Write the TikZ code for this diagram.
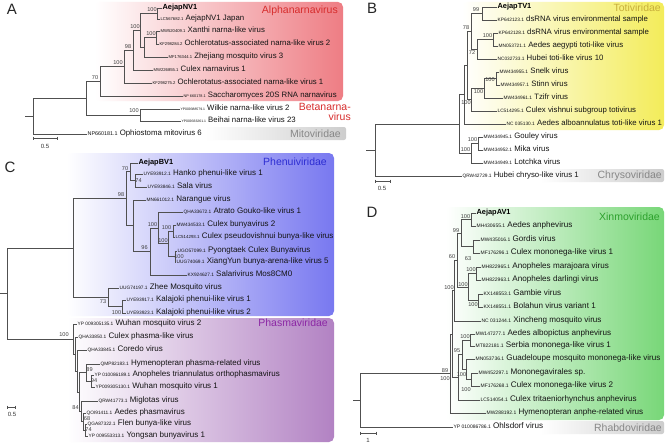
\documentclass[tikz,border=0pt]{standalone}
\usepackage{fontspec}
\setmainfont{Liberation Sans}
\definecolor{brc}{RGB}{80,80,80}
\definecolor{pinkR}{RGB}{238,125,132}
\definecolor{alphaT}{RGB}{215,45,45}
\definecolor{yelR}{RGB}{243,236,90}
\definecolor{totiT}{RGB}{200,175,60}
\definecolor{bluR}{RGB}{120,120,240}
\definecolor{phenT}{RGB}{45,45,210}
\definecolor{phaR}{RGB}{178,130,195}
\definecolor{phaT}{RGB}{140,40,165}
\definecolor{greR}{RGB}{120,215,120}
\definecolor{xinT}{RGB}{45,160,45}
\definecolor{graR}{RGB}{205,205,205}
\definecolor{grayT}{RGB}{135,135,135}
\def\accfs{4.2}
\def\lfs{7.8}
\newcommand\acc[1]{{\fontsize{\accfs}{5}\selectfont #1}}
\newcommand\lf[6][]{\node[leaf,#1] (#2) at (#3,#4) {\acc{#5}~#6};}
\newcommand\sm[2]{{\fontsize{#1}{5}\selectfont #2}}
\begin{document}
\begin{tikzpicture}[x=1pt,y=-1pt,
 br/.style={draw=brc,line width=0.55pt},
 leaf/.style={anchor=west,inner sep=0.6pt,outer sep=0pt,text height=5pt,text depth=1.5pt,font=\fontsize{\lfs}{8}\selectfont,text=black!92},
 bold/.style={font=\fontsize{7.4}{8}\selectfont\bfseries,text=black},
 bs/.style={font=\fontsize{5.6}{6}\selectfont,inner sep=0pt,text=black!75},
 clade/.style={font=\fontsize{10.5}{10}\selectfont,inner sep=0pt,anchor=east},
 plabel/.style={font=\fontsize{15}{16}\selectfont,inner sep=0pt,text=black!85},
 sc/.style={font=\fontsize{6}{7}\selectfont,inner sep=0pt,text=black!80}]
\useasboundingbox (0,0) rectangle (666,444);
\fill[white] (0,0) rectangle (666,444);
% ================= A =================
\shade[left color=white,right color=pinkR,rounded corners=5pt] (95,2) rectangle (343,101);
\shade[left color=white,right color=graR,rounded corners=2pt] (205,127) rectangle (346,140);
\node[plabel] (lA) at (12,9) {A};
\node[clade,text=alphaT] (cA1) at (338,11) {Alphanarnavirus};
\node[clade,text=alphaT,align=right] (cA2) at (351,112) {Betanarna-\\virus};
\node[clade,text=grayT] (cA3) at (341,134) {Mitoviridae};
\node[leaf,bold] (aL1) at (162,8) {AejapNV1};
\lf{aL2}{160}{19}{LC567682.1}{AejapNV1 Japan}
\lf{aL3}{160}{31}{MW520409.1}{Xanthi narna-like virus}
\lf{aL4}{159}{44}{KF298284.2}{Ochlerotatus-associated narna-like virus 2}
\lf{aL5}{168}{57}{MF176344.1}{Zhejiang mosquito virus 3}
\lf{aL6}{153}{70}{MW226855.1}{Culex narnavirus 1}
\lf{aL7}{152}{83}{KF298275.2}{Ochlerotatus-associated narna-like virus 1}
\lf{aL8}{183}{96}{\sm{3.8}{NP 660178.1}}{Saccharomyces 20S RNA narnavirus}
\lf{aL9}{180}{109}{\sm{3.4}{YP009388579.1}}{Wilkie narna-like virus 2}
\lf{aL10}{181}{121}{\sm{3.4}{YP009333261.1}}{Beihai narna-like virus 23}
\lf{aL11}{87}{134}{\sm{5.4}{NP660181.1}}{Ophiostoma mitovirus 6}
\coordinate (an1) at (157,13.5);
\coordinate (an2) at (156,37.5);
\coordinate (an3) at (144,47.25);
\coordinate (an4) at (140,30.4);
\coordinate (an5) at (133,50.2);
\coordinate (an6) at (124,66.6);
\coordinate (an7) at (100,81.3);
\coordinate (anb) at (140,115);
\coordinate (an8) at (86,98.1);
\coordinate (anr) at (33,116);
\coordinate (anst) at (25,116);
\draw[br] (an1) |- (aL1.west) (an1) |- (aL2.west)
 (an2) |- (aL3.west) (an2) |- (aL4.west)
 (an3) |- (an2) (an3) |- (aL5.west)
 (an4) |- (an1) (an4) |- (an3)
 (an5) |- (an4) (an5) |- (aL6.west)
 (an6) |- (an5) (an6) |- (aL7.west)
 (an7) |- (an6) (an7) |- (aL8.west)
 (anb) |- (aL9.west) (anb) |- (aL10.west)
 (an8) |- (an7) (an8) |- (anb)
 (anr) |- (an8) (anr) |- (aL11.west)
 (anst) -- (anr);
\node[bs] (bA1) at (152,9.5) {100};
\node[bs] (bA2) at (151,34) {100};
\node[bs] (bA3) at (135,27) {100};
\node[bs] (bA4) at (128,47) {98};
\node[bs] (bA5) at (118,63) {100};
\node[bs] (bA6) at (95,78) {70};
\node[bs] (bA7) at (134,111) {100};
\coordinate (sA1) at (33,138);
\coordinate (sA2) at (57,138);
\draw[br] (sA1) -- (sA2) ([yshift=1.5pt]sA1) -- ([yshift=-1.5pt]sA1) ([yshift=1.5pt]sA2) -- ([yshift=-1.5pt]sA2);
\node[sc] (sAl) at (45,146) {0.5};
% ================= B =================
\def\accfs{4.8}\def\lfs{7.8}
\shade[left color=white,right color=yelR,rounded corners=5pt] (462,2) rectangle (664,130);
\shade[left color=white,right color=graR,rounded corners=2pt] (540,169) rectangle (664,182);
\node[plabel] (lB) at (372,8) {B};
\node[clade,text=totiT] (cB1) at (661,8) {Totiviridae};
\node[clade,text=grayT] (cB2) at (662,175.5) {Chrysoviridae};
\node[leaf,bold] (bL1) at (497,7) {AejapTV1};
\lf{bL2}{497}{20}{KP642123.1}{dsRNA virus environmental sample}
\lf{bL3}{498}{33}{KP642128.1}{dsRNA virus environmental sample}
\lf{bL4}{498}{46}{MN053721.1}{Aedes aegypti toti-like virus}
\lf{bL5}{497}{59}{NC032733.1}{Hubei toti-like virus 10}
\lf{bL6}{499}{72}{MW434955.1}{Snelk virus}
\lf{bL7}{500}{85}{MW434957.1}{Stinn virus}
\lf{bL8}{503}{98}{MW434961.1}{Tzifr virus}
\lf{bL9}{497}{111}{LC514295.1}{Culex vishnui subgroup totivirus}
\lf{bL10}{506}{124}{NC 035130.1}{Aedes alboannulatus toti-like virus 1}
\lf{bL11}{483}{137}{MW434945.1}{Gouley virus}
\lf{bL12}{483}{150}{MW434952.1}{Mika virus}
\lf{bL13}{483}{163}{MW434949.1}{Lotchka virus}
\lf{bL14}{462}{176}{QRW42729.1}{Hubei chryso-like virus 1}
\coordinate (bn1) at (482,13.5);
\coordinate (bn2) at (493,39.5);
\coordinate (bn3) at (477,49.25);
\coordinate (bn4) at (471,31.4);
\coordinate (bn5) at (496,78.5);
\coordinate (bn6) at (484,88.25);
\coordinate (bn7) at (471,99.6);
\coordinate (bn8) at (467,65.5);
\coordinate (bn9) at (464,94.75);
\coordinate (bg1) at (478,143.5);
\coordinate (bg2) at (471,153.25);
\coordinate (bT) at (459,124);
\coordinate (br) at (375,150);
\coordinate (bst) at (366,150);
\draw[br] (bn1) |- (bL1.west) (bn1) |- (bL2.west)
 (bn2) |- (bL3.west) (bn2) |- (bL4.west)
 (bn3) |- (bn2) (bn3) |- (bL5.west)
 (bn4) |- (bn1) (bn4) |- (bn3)
 (bn5) |- (bL6.west) (bn5) |- (bL7.west)
 (bn6) |- (bn5) (bn6) |- (bL8.west)
 (bn7) |- (bn6) (bn7) |- (bL9.west)
 (bn8) |- (bn4) (bn8) |- (bn7)
 (bn9) |- (bn8) (bn9) |- (bL10.west)
 (bg1) |- (bL11.west) (bg1) |- (bL12.west)
 (bg2) |- (bg1) (bg2) |- (bL13.west)
 (bT) |- (bn9) (bT) |- (bg2)
 (br) |- (bT) (br) |- (bL14.west)
 (bst) -- (br);
\node[bs] (bB1) at (476,10) {99};
\node[bs] (bB2) at (466,28) {78};
\node[bs] (bB3) at (487.5,36) {100};
\node[bs] (bB4) at (472,53) {72};
\node[bs] (bB5) at (490,80) {100};
\node[bs] (bB6) at (478.5,92) {100};
\node[bs] (bB7) at (466,103) {100};
\node[bs] (bB8) at (472.5,140) {100};
\node[bs] (bB9) at (465.5,150) {100};
\coordinate (sB1) at (375,181);
\coordinate (sB2) at (390,181);
\draw[br] (sB1) -- (sB2) ([yshift=1.5pt]sB1) -- ([yshift=-1.5pt]sB1) ([yshift=1.5pt]sB2) -- ([yshift=-1.5pt]sB2);
\node[sc] (sBl) at (382,188) {0.5};
% ================= C =================
\def\accfs{4.8}\def\lfs{8}
\shade[left color=white,right color=bluR,rounded corners=5pt] (67,153) rectangle (334,316);
\shade[left color=white,right color=phaR,rounded corners=5pt] (67,318) rectangle (334,442);
\node[plabel] (lC) at (10,167) {C};
\node[clade,text=phenT] (cC1) at (327,162) {Phenuiviridae};
\node[clade,text=phaT] (cC2) at (328,323) {Phasmaviridae};
\node[leaf,bold] (cL1) at (138,163) {AejapBV1};
\lf{cL2}{143}{174}{UYE93912.1}{Hanko phenui-like virus 1}
\lf{cL3}{147}{187}{UYE93846.1}{Sala virus}
\lf{cL4}{146}{200}{MN661012.1}{Narangue virus}
\lf{cL5}{183}{212}{QHA33672.1}{Atrato Gouko-like virus 1}
\lf{cL6}{176}{225}{MW434533.1}{Culex bunyavirus 2}
\lf{cL7}{175}{237}{\sm{4.4}{LC514293.1}}{Culex pseudovishnui bunya-like virus}
\lf{cL8}{177}{251}{UGO57099.1}{Pyongtaek Culex Bunyavirus}
\lf{cL9}{176}{262}{UUG74069.1}{XiangYun bunya-arena-like virus 5}
\lf{cL10}{187}{275}{KX924627.1}{Salarivirus Mos8CM0}
\lf{cL11}{119}{288}{UUG74197.1}{Zhee Mosquito virus}
\lf{cL12}{126}{300}{UYE93917.1}{Kalajoki phenui-like virus 1}
\lf{cL13}{126}{313}{UYE93923.1}{Kalajoki phenui-like virus 2}
\lf{cL14}{77}{324}{YP 009305135.1}{Wuhan mosquito virus 2}
\lf{cL15}{78}{337}{QHA33850.1}{Culex phasma-like virus}
\lf{cL16}{87}{350}{QHA33845.1}{Coredo virus}
\lf{cL17}{100}{364}{QMP82183.1}{Hymenopteran phasma-related virus}
\lf{cL18}{94}{375}{YP 010086189.1}{Anopheles triannulatus orthophasmavirus}
\lf{cL19}{95}{387}{YP009305130.1}{Wuhan mosquito virus 1}
\lf{cL20}{98}{401}{QRW41773.1}{Miglotas virus}
\lf{cL21}{86}{413}{QOI91411.1}{Aedes phasmavirus}
\lf{cL22}{87}{424}{QGA87322.1}{Flen bunya-like virus}
\lf{cL23}{88}{436}{YP 009553313.1}{Yongsan bunyavirus 1}
\coordinate (cn74) at (135,180.5);
\coordinate (cn70) at (130,171.75);
\coordinate (cp1) at (173,231);
\coordinate (cp2) at (175,256.5);
\coordinate (cp3) at (168,243.75);
\coordinate (cp4) at (158,227.9);
\coordinate (cp5) at (150,251.4);
\coordinate (cp6) at (133,225.7);
\coordinate (cp7) at (126,198.7);
\coordinate (ck) at (122,306.5);
\coordinate (cz) at (108,297.25);
\coordinate (cph) at (73,248);
\coordinate (q94) at (91,381);
\coordinate (q89) at (86,372.5);
\coordinate (q74) at (85,430);
\coordinate (q68) at (83,421.5);
\coordinate (q84) at (81,411.25);
\coordinate (qm) at (79.5,391.9);
\coordinate (ph3) at (77.5,370.9);
\coordinate (ph2) at (75.5,354);
\coordinate (ph1) at (73,339);
\coordinate (cr) at (7,293.5);
\coordinate (cst) at (0,293.5);
\draw[br] (cn74) |- (cL2.west) (cn74) |- (cL3.west)
 (cn70) |- (cL1.west) (cn70) |- (cn74)
 (cp1) |- (cL6.west) (cp1) |- (cL7.west)
 (cp2) |- (cL8.west) (cp2) |- (cL9.west)
 (cp3) |- (cp1) (cp3) |- (cp2)
 (cp4) |- (cL5.west) (cp4) |- (cp3)
 (cp5) |- (cp4) (cp5) |- (cL10.west)
 (cp6) |- (cL4.west) (cp6) |- (cp5)
 (cp7) |- (cn70) (cp7) |- (cp6)
 (ck) |- (cL12.west) (ck) |- (cL13.west)
 (cz) |- (cL11.west) (cz) |- (ck)
 (cph) |- (cp7) (cph) |- (cz)
 (q94) |- (cL18.west) (q94) |- (cL19.west)
 (q89) |- (cL17.west) (q89) |- (q94)
 (q74) |- (cL22.west) (q74) |- (cL23.west)
 (q68) |- (cL21.west) (q68) |- (q74)
 (q84) |- (cL20.west) (q84) |- (q68)
 (qm) |- (q89) (qm) |- (q84)
 (ph3) |- (cL16.west) (ph3) |- (qm)
 (ph2) |- (cL15.west) (ph2) |- (ph3)
 (ph1) |- (cL14.west) (ph1) |- (ph2)
 (cr) |- (cph) (cr) |- (ph1)
 (cst) -- (cr);
\node[bs] (bC1) at (125,169) {70};
\node[bs] (bC2) at (138.5,181) {74};
\node[bs] (bC3) at (121,195) {98};
\node[bs] (bC4) at (152.5,224.5) {100};
\node[bs] (bC5) at (144.5,248) {96};
\node[bs] (bC6) at (166.5,227.5) {100};
\node[bs] (bC7) at (163,241) {100};
\node[bs] (bC8) at (179,256.5) {100};
\node[bs] (bC9) at (103,302) {73};
\node[bs] (bC10) at (116.5,313) {100};
\node[bs] (bC11) at (64,335) {100};
\node[bs] (bC12) at (89.5,369.5) {89};
\node[bs] (bC13) at (94,381) {94};
\node[bs] (bC14) at (75.5,408) {84};
\node[bs] (bC15) at (87,419) {68};
\node[bs] (bC16) at (88.5,430) {74};
\coordinate (sC1) at (7,407);
\coordinate (sC2) at (15,407);
\draw[br] (sC1) -- (sC2) ([yshift=1.5pt]sC1) -- ([yshift=-1.5pt]sC1) ([yshift=1.5pt]sC2) -- ([yshift=-1.5pt]sC2);
\node[sc] (sCl) at (12,414) {0.5};
% ================= D =================
\def\accfs{5}\def\lfs{8.1}
\shade[left color=white,right color=greR,rounded corners=5pt] (446,207) rectangle (664,420);
\shade[left color=white,right color=graR,rounded corners=2pt] (540,421) rectangle (664,434);
\node[plabel] (lD) at (372,212) {D};
\node[clade,text=xinT] (cD1) at (660,217) {Xinmoviridae};
\node[clade,text=grayT] (cD2) at (662,427.5) {Rhabdoviridae};
\node[leaf,bold] (dL1) at (476,213) {AejapAV1};
\lf{dL2}{476}{226}{MH430655.1}{Aedes anphevirus}
\lf{dL3}{480}{240}{MW435016.1}{Gordis virus}
\lf{dL4}{480}{253}{MF176296.1}{Culex mononega-like virus 1}
\lf{dL5}{481}{267}{MH822965.1}{Anopheles marajoara virus}
\lf{dL6}{481}{280}{MH822963.1}{Anopheles darlingi virus}
\lf{dL7}{483}{294}{KX148553.1}{Gambie virus}
\lf{dL8}{483}{307}{KX148551.1}{Bolahun virus variant 1}
\lf{dL9}{481}{321}{NC 031244.1}{Xincheng mosquito virus}
\lf{dL10}{475}{334}{MW147277.1}{Aedes albopictus anphevirus}
\lf{dL11}{475}{346}{MT822181.1}{Serbia mononega-like virus 1}
\lf{dL12}{475}{359}{MN053736.1}{Guadeloupe mosquito mononega-like virus}
\lf{dL13}{478}{373}{MW452297.1}{Mononegavirales sp.}
\lf{dL14}{480}{386}{MF176268.1}{Culex mononega-like virus 2}
\lf{dL15}{480}{400}{LC514054.1}{Culex tritaeniorhynchus anphevirus}
\lf{dL16}{486}{413}{MW288192.1}{Hymenopteran anphe-related virus}
\lf{dL17}{453}{427}{YP 010086786.1}{Ohlsdorf virus}
\coordinate (d1) at (471,219.5);
\coordinate (d2) at (473,246.5);
\coordinate (d3) at (461,233);
\coordinate (d4) at (476,273.5);
\coordinate (d5) at (478,300.5);
\coordinate (d6) at (468,287);
\coordinate (d7) at (457,260);
\coordinate (d8) at (454,290.5);
\coordinate (e1) at (470,340);
\coordinate (e2) at (471,379.5);
\coordinate (e3) at (466,369.25);
\coordinate (e4) at (462,354.6);
\coordinate (e5) at (458,377.3);
\coordinate (f1) at (452,333.9);
\coordinate (f2) at (450,373.5);
\coordinate (dr) at (360,400.2);
\coordinate (dst) at (353,400.2);
\draw[br] (d1) |- (dL1.west) (d1) |- (dL2.west)
 (d2) |- (dL3.west) (d2) |- (dL4.west)
 (d3) |- (d1) (d3) |- (d2)
 (d4) |- (dL5.west) (d4) |- (dL6.west)
 (d5) |- (dL7.west) (d5) |- (dL8.west)
 (d6) |- (d4) (d6) |- (d5)
 (d7) |- (d3) (d7) |- (d6)
 (d8) |- (d7) (d8) |- (dL9.west)
 (e1) |- (dL10.west) (e1) |- (dL11.west)
 (e2) |- (dL13.west) (e2) |- (dL14.west)
 (e3) |- (dL12.west) (e3) |- (e2)
 (e4) |- (e1) (e4) |- (e3)
 (e5) |- (e4) (e5) |- (dL15.west)
 (f1) |- (d8) (f1) |- (e5)
 (f2) |- (f1) (f2) |- (dL16.west)
 (dr) |- (f2) (dr) |- (dL17.west)
 (dst) -- (dr);
\node[bs] (bD1) at (465.5,216.5) {100};
\node[bs] (bD2) at (456,230.5) {99};
\node[bs] (bD3) at (468,259) {63};
\node[bs] (bD4) at (452,257) {60};
\node[bs] (bD5) at (471,270) {100};
\node[bs] (bD6) at (463,284.5) {100};
\node[bs] (bD7) at (449,288) {100};
\node[bs] (bD8) at (473,305) {100};
\node[bs] (bD9) at (465,337) {100};
\node[bs] (bD10) at (457,351) {95};
\node[bs] (bD11) at (461.5,375) {100};
\node[bs] (bD12) at (466,390) {100};
\node[bs] (bD13) at (445,370.5) {89};
\node[bs] (bD14) at (445,378.5) {100};
\coordinate (sD1) at (360,433);
\coordinate (sD2) at (376,433);
\draw[br] (sD1) -- (sD2) ([yshift=1.5pt]sD1) -- ([yshift=-1.5pt]sD1) ([yshift=1.5pt]sD2) -- ([yshift=-1.5pt]sD2);
\node[sc] (sDl) at (368,440) {1};
\end{tikzpicture}
\end{document}
